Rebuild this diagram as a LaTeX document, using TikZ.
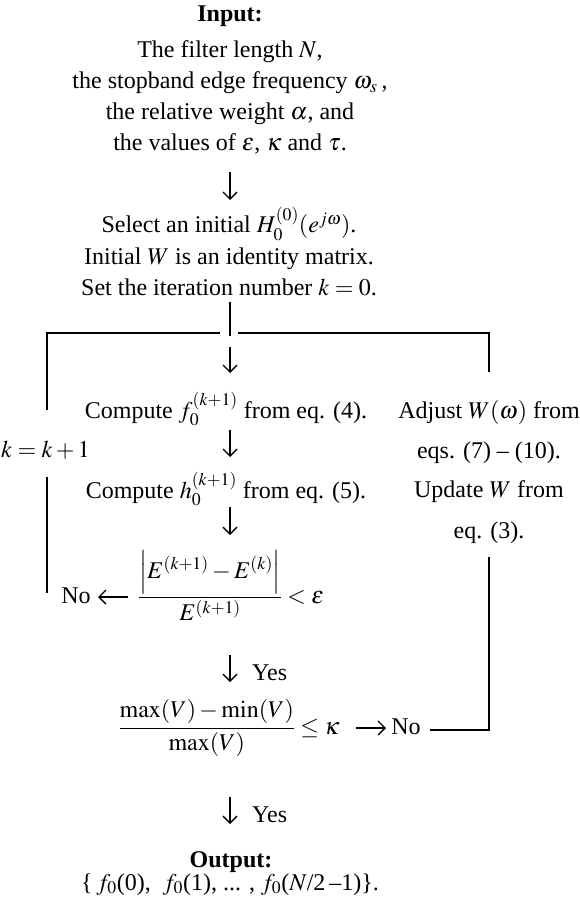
\documentclass[tikz,border=0pt]{standalone}
\usepackage{mathptmx}
\usepackage[no-math]{fontspec}
\setmainfont{Liberation Serif}
\usetikzlibrary{arrows.meta}
\tikzset{
  txt/.style={anchor=base, inner sep=0pt, font=\fontsize{24}{29}\selectfont},
  boldtxt/.style={anchor=base, inner sep=0pt, font=\fontsize{24}{29}\selectfont\bfseries},
  brk/.style={line width=2.4pt},
  varr/.style={line width=1.3pt, -{Straight Barb[length=7pt,width=14pt,line width=1.3pt]}},
}
\begin{document}
\begin{tikzpicture}[x=1pt,y=-1pt]
\useasboundingbox (0,0) rectangle (579,901);
% input block
\node[boldtxt] (inp) at (230,22) {Input:};
\node[txt] (in1) at (230,58) {The filter length $N$,};
\node[txt] (in2) at (230,89) {the stopband edge frequency $\omega_s$\,,};
\node[txt] (in3) at (230,120) {the relative weight $\alpha$, and};
\node[txt] (in4) at (230,151) {the values of $\varepsilon$, $\kappa$ and $\tau$.};
\coordinate (a1s) at (230,172); \coordinate (a1e) at (230,200);
\draw[varr] (a1s) -- (a1e);
% initialisation
\node[txt] (sel1) at (229,233) {Select an initial $H_0^{(0)}(e^{j\omega})$.};
\node[txt] (sel2) at (229,264) {Initial $W$ is an identity matrix.};
\node[txt] (sel3) at (229,295) {Set the iteration number $k=0$.};
% bracket
\coordinate (btop) at (230,302);
\coordinate (bmid) at (230,336);
\coordinate (lgap) at (220,333);
\coordinate (rgap) at (238,333);
\coordinate (ltop) at (47,333);
\coordinate (lend) at (47,410);
\coordinate (rtop) at (489,333);
\coordinate (rend) at (489,372);
\draw[brk] (btop) -- (bmid);
\draw[brk] (lgap) -- (ltop) -- (lend);
\draw[brk] (rgap) -- (rtop) -- (rend);
% centre column
\coordinate (a2s) at (230,347); \coordinate (a2e) at (230,373);
\draw[varr] (a2s) -- (a2e);
\node[txt] (cf) at (226,418) {Compute $f_0^{(k+1)}$ from eq. (4).};
\coordinate (a3s) at (230,430); \coordinate (a3e) at (230,457);
\draw[varr] (a3s) -- (a3e);
\node[txt] (ch) at (226,498) {Compute $h_0^{(k+1)}$ from eq. (5).};
\coordinate (a4s) at (230,507); \coordinate (a4e) at (230,535);
\draw[varr] (a4s) -- (a4e);
\node[txt] (fr1) at (231,603) {$\displaystyle\frac{\left|E^{(k+1)}-E^{(k)}\right|}{E^{(k+1)}}<\varepsilon$};
\node[txt] (no1) at (76,603) {No};
\coordinate (h1s) at (128,597); \coordinate (h1e) at (98,597);
\draw[varr] (h1s) -- (h1e);
% left loop
\node[txt] (kk) at (45.5,457) {$k=k+1$};
\coordinate (llt) at (47,477); \coordinate (llb) at (47,593);
\draw[brk] (llt) -- (llb);
% right column
\node[txt] (r1) at (489,418) {Adjust $W(\omega)$ from};
\node[txt] (r2) at (489,458) {eqs. (7) -- (10).};
\node[txt] (r3) at (489,497) {Update $W$ from};
\node[txt] (r4) at (489,538) {eq. (3).};
\coordinate (rlt) at (489,557); \coordinate (rlc) at (489,730); \coordinate (rle) at (430,730);
\draw[brk] (rlt) -- (rlc) -- (rle);
% yes 1
\coordinate (y1s) at (230,655); \coordinate (y1e) at (230,682);
\draw[varr] (y1s) -- (y1e);
\node[txt, anchor=base west] (yes1) at (252,680) {Yes};
% second test
\node[txt] (fr2) at (229,734) {$\displaystyle\frac{\max(V)-\min(V)}{\max(V)}\le\kappa$};
\coordinate (h2s) at (356,728); \coordinate (h2e) at (386,728);
\draw[varr] (h2s) -- (h2e);
\node[txt] (no2) at (406,734) {No};
% yes 2
\coordinate (y2s) at (230,797); \coordinate (y2e) at (230,824);
\draw[varr] (y2s) -- (y2e);
\node[txt, anchor=base west] (yes2) at (252,822) {Yes};
% output
\node[boldtxt] (out) at (231,867) {Output:};
\node[txt] (out2) at (230,890) {\{\,$f_0$(0),\ \ $f_0$(1), ... , $f_0$($N$/2\,--1)\}.};
\end{tikzpicture}
\end{document}
